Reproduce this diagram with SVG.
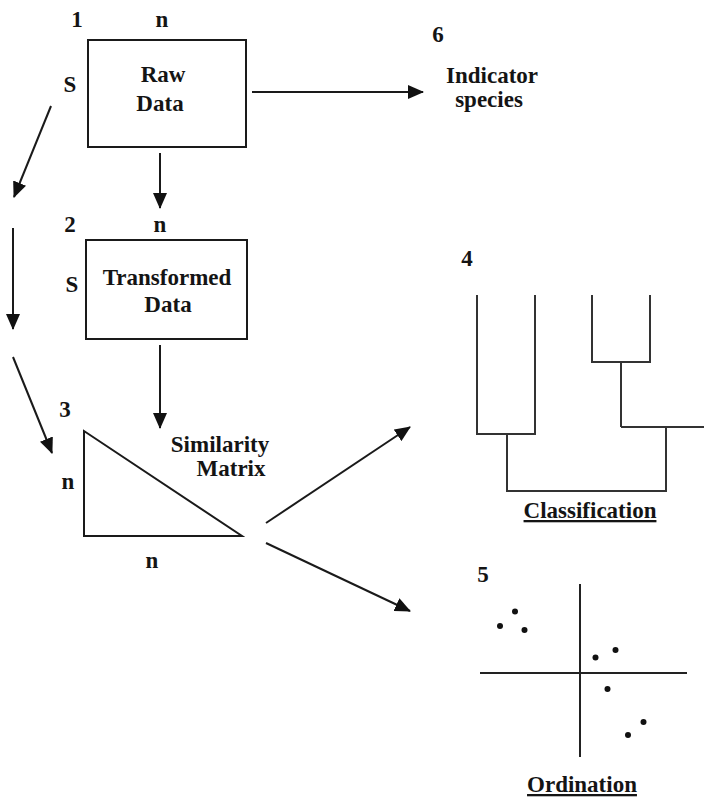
<svg xmlns="http://www.w3.org/2000/svg" width="704" height="800" viewBox="0 0 704 800">
<defs>
<style>
text{font-family:"Liberation Serif","DejaVu Serif",serif;font-weight:bold;font-size:23px;fill:#141414}
.m{text-anchor:middle}
.box{fill:#fff;stroke:#1a1a1a;stroke-width:2}
.edge{stroke:#1a1a1a;stroke-width:2;fill:none;marker-end:url(#ah)}
.tree{stroke:#333;stroke-width:2;fill:none}
.u{text-decoration:underline}
</style>
<marker id="ah" markerUnits="userSpaceOnUse" markerWidth="16" markerHeight="14" refX="15" refY="7" orient="auto">
<path d="M0,0 L16,7 L0,14 Z" fill="#111"/>
</marker>
</defs>
<rect width="704" height="800" fill="#fff"/>

<g id="connectors">
<line class="edge" x1="51" y1="106" x2="14" y2="197"/>
<line class="edge" x1="13" y1="228" x2="13" y2="329"/>
<line class="edge" x1="13" y1="357" x2="52" y2="453"/>
<line class="edge" x1="160" y1="153" x2="160" y2="208"/>
<line class="edge" x1="160" y1="345" x2="160" y2="428"/>
<line class="edge" x1="252" y1="92" x2="423" y2="92"/>
<line class="edge" x1="266" y1="523" x2="410" y2="427"/>
<line class="edge" x1="266" y1="543" x2="410" y2="611"/>
</g>

<g id="node1">
<text x="77" y="27" class="m">1</text>
<text x="162" y="27" class="m">n</text>
<text x="70" y="92" class="m">S</text>
<rect class="box" x="88" y="40" width="158" height="107"/>
<text x="163" y="82" class="m">Raw</text>
<text x="160" y="111" class="m">Data</text>
</g>

<g id="node2">
<text x="70" y="232" class="m">2</text>
<text x="160" y="232" class="m">n</text>
<text x="72" y="292" class="m">S</text>
<rect class="box" x="86" y="240" width="161" height="99"/>
<text x="167" y="285" class="m">Transformed</text>
<text x="168" y="312" class="m">Data</text>
</g>

<g id="node3">
<text x="65" y="417" class="m">3</text>
<path d="M84,431 L84,536 L242,536 Z" fill="#fff" stroke="#1a1a1a" stroke-width="2"/>
<text x="68" y="489" class="m">n</text>
<text x="152" y="568" class="m">n</text>
<text x="220" y="452" class="m">Similarity</text>
<text x="231" y="476" class="m">Matrix</text>
</g>

<g id="node4">
<text x="467" y="266" class="m">4</text>
<path class="tree" d="M477,295 V434 H535 V295 M507,434 V491 H666 V427 M621,427 H704 M621,427 V362 M592,295 V362 H650 V295"/>
<text x="590" y="518" class="m u">Classification</text>
</g>

<g id="node5">
<text x="483" y="582" class="m">5</text>
<line x1="580" y1="584" x2="580" y2="757" stroke="#222" stroke-width="2"/>
<line x1="480" y1="673" x2="687" y2="673" stroke="#222" stroke-width="2"/>
<g fill="#111">
<circle cx="500" cy="626" r="3"/>
<circle cx="515" cy="611.5" r="3"/>
<circle cx="524.5" cy="630" r="3"/>
<circle cx="595.5" cy="657.5" r="3"/>
<circle cx="615.5" cy="650" r="3"/>
<circle cx="607.5" cy="689" r="3"/>
<circle cx="628" cy="735" r="3"/>
<circle cx="643.5" cy="722" r="3"/>
</g>
<text x="582" y="792" class="m u">Ordination</text>
</g>

<g id="node6">
<text x="438" y="42" class="m">6</text>
<text x="492" y="83" class="m">Indicator</text>
<text x="489" y="107" class="m">species</text>
</g>
</svg>
